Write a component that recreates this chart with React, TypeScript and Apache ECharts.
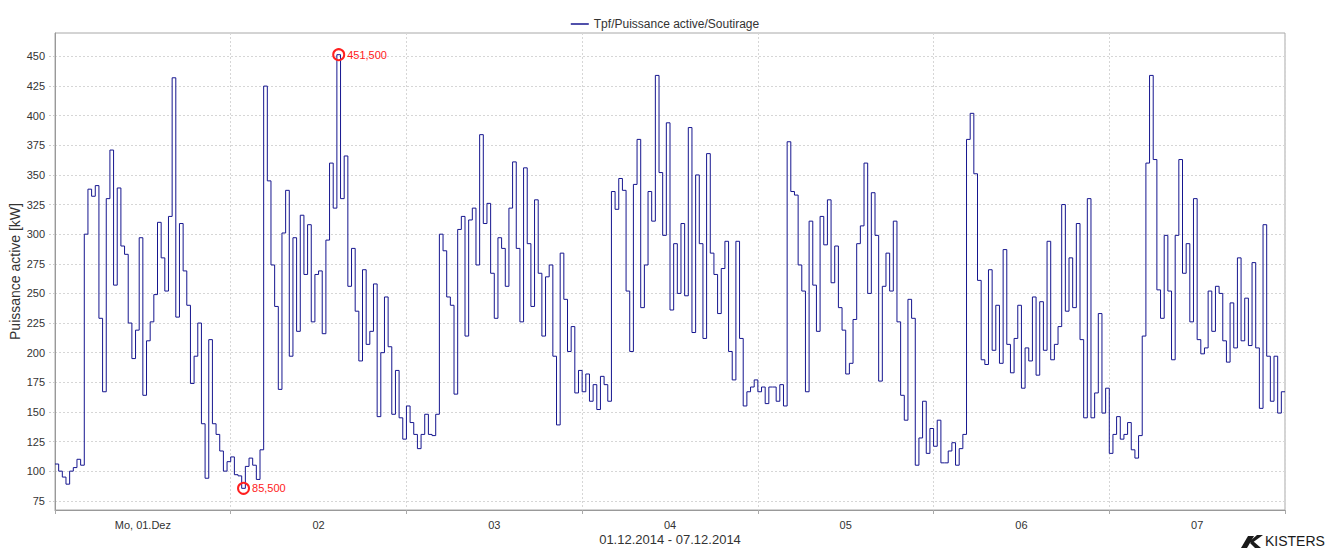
import React, { useEffect, useRef } from "react";
import * as echarts from "echarts";

// ---- data (30-minute steps, kW) ----
const seriesName = "Tpf/Puissance active/Soutirage";
const axisTitle = "Puissance active [kW]";
const periodLabel = "01.12.2014 - 07.12.2014";
const dayLabels = ["Mo, 01.Dez", "02", "03", "04", "05", "06", "07"];
const yTickValues = [75, 100, 125, 150, 175, 200, 225, 250, 275, 300, 325, 350, 375, 400, 425, 450];
const yAxisMin = 67.2;
const yAxisMax = 469.8;
const stepHours = 0.5;

const day1 = [106, 100, 95, 89, 100, 103, 110, 105, 300, 338, 332, 341, 229, 167, 330, 371, 257, 339, 290, 283, 225, 195, 219, 297, 164, 210, 226, 249, 310, 280, 252, 315, 432, 230, 309, 269, 240, 174, 197, 225, 140, 94, 211, 140, 131, 117, 100, 108];
const day2 = [112, 97, 96, 85.5, 104, 111, 105, 93, 118, 425, 345, 274, 239, 169, 301, 337, 197, 297, 218, 316, 266, 308, 226, 266, 269, 216, 295, 360, 322, 451.5, 330, 366, 256, 288, 235, 193, 270, 207, 218, 258, 146, 200, 247, 205, 148, 185, 145, 127];
const day3 = [155, 141, 131, 119, 131, 148, 131, 130, 148, 300, 286, 247, 240, 165, 304, 315, 214, 312, 322, 274, 384, 309, 326, 267, 229, 297, 288, 256, 322, 361, 288, 226, 356, 292, 239, 329, 267, 214, 264, 274, 197, 139, 284, 245, 201, 222, 166, 185];
const day4 = [167, 182, 159, 173, 152, 180, 173, 159, 336, 321, 347, 337, 252, 201, 342, 380, 238, 274, 336, 311, 434, 352, 299, 394, 236, 292, 250, 309, 248, 390, 217, 350, 292, 212, 368, 284, 266, 233, 271, 294, 201, 177, 294, 212, 155, 167, 171, 177];
const day5 = [167, 171, 157, 171, 171, 159, 173, 155, 378, 336, 333, 274, 252, 167, 311, 257, 218, 315, 291, 329, 259, 290, 238, 219, 182, 191, 228, 292, 307, 360, 250, 335, 299, 176, 256, 284, 252, 311, 226, 164, 143, 245, 229, 105, 128, 159, 115, 136];
const day6 = [121, 143, 107, 107, 117, 124, 105, 119, 131, 380, 402, 351, 261, 194, 190, 270, 202, 240, 191, 287, 207, 183, 212, 240, 170, 204, 193, 247, 181, 243, 202, 294, 194, 207, 222, 325, 235, 280, 238, 309, 211, 145, 330, 145, 166, 233, 149, 170];
const day7 = [115, 131, 146, 127, 131, 141, 118, 111, 130, 214, 360, 434, 363, 253, 229, 299, 252, 194, 299, 363, 267, 292, 226, 330, 211, 199, 204, 252, 218, 256, 250, 210, 192, 242, 204, 280, 210, 246, 206, 276, 204, 153, 308, 197, 159, 197, 149, 167];

const FONT = "'Liberation Sans', Arial, sans-serif";

export default function App() {
  const ref = useRef<HTMLDivElement>(null);

  useEffect(() => {
    if (!ref.current) return;
    const chart = echarts.init(ref.current, null, { renderer: "svg" });

    const values = [...day1, ...day2, ...day3, ...day4, ...day5, ...day6, ...day7];
    const data: number[][] = values.map((v, i) => [i * stepHours, v]);
    data.push([values.length * stepHours, values[values.length - 1]]);

    let maxI = 0;
    let minI = 0;
    values.forEach((v, i) => {
      if (v > values[maxI]) maxI = i;
      if (v < values[minI]) minI = i;
    });
    const fmt = (v: number) => v.toFixed(3).replace(".", ",");
    const totalHours = values.length * stepHours;
    const labelValues = dayLabels.map((_, i) => i * 24 + 12);

    chart.setOption({
      animation: false,
      textStyle: { fontFamily: FONT },
      legend: {
        top: 13,
        left: "center",
        icon: "rect",
        itemWidth: 18,
        itemHeight: 1.5,
        textStyle: { fontSize: 12, color: "#333", fontFamily: FONT },
        data: [seriesName],
      },
      grid: {
        left: 55,
        right: 45,
        top: 33,
        bottom: 39,
        containLabel: false,
        outerBoundsMode: "none",
        show: true,
        borderColor: "#a8a8a8",
        borderWidth: 1,
        backgroundColor: "#fff",
      },
      xAxis: {
        type: "value",
        min: 0,
        max: totalHours,
        interval: 24,
        name: periodLabel,
        nameLocation: "middle",
        nameGap: 23,
        nameMoveOverlap: false,
        nameTextStyle: { fontSize: 13, color: "#333", fontFamily: FONT },
        axisLine: { lineStyle: { color: "#999" } },
        axisTick: { show: true, length: 4, lineStyle: { color: "#aaa" } },
        axisLabel: {
          customValues: labelValues,
          fontSize: 11,
          color: "#333",
          margin: 9,
          formatter: (v: number) => dayLabels[Math.floor(v / 24)] ?? "",
        },
        splitLine: { show: true, lineStyle: { color: "#d6d6d6", type: [2, 2] } },
      },
      yAxis: {
        type: "value",
        min: yAxisMin,
        max: yAxisMax,
        name: axisTitle,
        nameLocation: "middle",
        nameGap: 33,
        nameMoveOverlap: false,
        nameTextStyle: { fontSize: 14, color: "#333", fontFamily: FONT },
        axisLine: { show: true, lineStyle: { color: "#999" } },
        axisTick: {
          show: true,
          customValues: yTickValues,
          length: 6,
          lineStyle: { color: "#ccc", type: [2, 2] },
        },
        axisLabel: {
          customValues: yTickValues,
          fontSize: 11,
          color: "#333",
          margin: 10,
        },
        splitLine: { show: true, lineStyle: { color: "#d6d6d6", type: [2, 2] } },
      },
      series: [
        {
          name: seriesName,
          type: "line",
          step: "end",
          data,
          symbol: "none",
          lineStyle: { color: "#16168f", width: 1 },
          itemStyle: { color: "#16168f" },
          markPoint: {
            symbol: "circle",
            symbolSize: 11,
            itemStyle: { color: "rgba(0,0,0,0)", borderColor: "#ff2020", borderWidth: 2 },
            label: {
              show: true,
              position: "right",
              distance: 2,
              color: "#ff2020",
              fontSize: 11,
              fontFamily: FONT,
            },
            data: [
              {
                coord: [maxI * stepHours + stepHours / 2, values[maxI]],
                label: { formatter: fmt(values[maxI]) },
              },
              {
                coord: [minI * stepHours + stepHours / 2, values[minI]],
                label: { formatter: fmt(values[minI]) },
              },
            ],
          },
        },
      ],
      graphic: [
        {
          type: "polygon",
          shape: { points: [[1241, 548], [1247, 548], [1254, 536], [1248, 536]] },
          style: { fill: "#1a1a1a" },
        },
        {
          type: "polygon",
          shape: { points: [[1249, 542], [1257, 535], [1263, 535], [1252, 543]] },
          style: { fill: "#1a1a1a" },
        },
        {
          type: "polygon",
          shape: { points: [[1250, 543], [1253, 541], [1261, 548], [1255, 548]] },
          style: { fill: "#1a1a1a" },
        },
        {
          type: "text",
          left: 1265,
          top: 534,
          style: { text: "KISTERS", fill: "#1a1a1a", fontSize: 14, fontFamily: FONT },
        },
      ],
    });

    return () => chart.dispose();
  }, []);

  return (
    <div
      ref={ref}
      style={{ position: "absolute", left: 0, top: 0, width: 1330, height: 549, background: "#fff" }}
    />
  );
}
